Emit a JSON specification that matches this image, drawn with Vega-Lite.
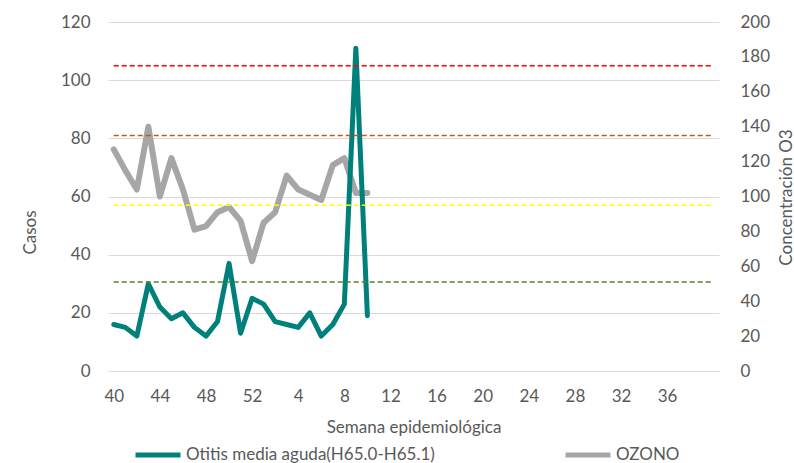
{
  "$schema": "https://vega.github.io/schema/vega-lite/v6.json",
  "width": 611,
  "height": 349,
  "autosize": {"type": "none"},
  "padding": {"left": 108, "top": 22, "right": 75, "bottom": 92},
  "background": "white",
  "config": {
    "font": "Lato",
    "view": {"stroke": null},
    "axis": {
      "labelColor": "#595959",
      "titleColor": "#595959",
      "labelFont": "Lato",
      "titleFont": "Lato",
      "labelFontSize": 17,
      "titleFontSize": 17,
      "titleFontWeight": "normal",
      "ticks": false,
      "domain": false,
      "gridColor": "#D9D9D9",
      "gridWidth": 1
    },
    "legend": {
      "orient": "none",
      "legendX": 25,
      "legendY": 408,
      "direction": "horizontal",
      "symbolType": "stroke",
      "symbolSize": 2025,
      "symbolStrokeWidth": 5,
      "labelFont": "Lato",
      "labelFontSize": 17,
      "labelLimit": 500,
      "labelColor": "#595959",
      "labelOffset": 3,
      "columnPadding": 120,
      "padding": 0,
      "title": null
    }
  },
  "datasets": {
    "serie": [
      {"orden": 0, "semana": 40, "casos": 16, "ozono": 127},
      {"orden": 1, "semana": 41, "casos": 15, "ozono": 115},
      {"orden": 2, "semana": 42, "casos": 12, "ozono": 104},
      {"orden": 3, "semana": 43, "casos": 30, "ozono": 140},
      {"orden": 4, "semana": 44, "casos": 22, "ozono": 100},
      {"orden": 5, "semana": 45, "casos": 18, "ozono": 122},
      {"orden": 6, "semana": 46, "casos": 20, "ozono": 104},
      {"orden": 7, "semana": 47, "casos": 15, "ozono": 81},
      {"orden": 8, "semana": 48, "casos": 12, "ozono": 83},
      {"orden": 9, "semana": 49, "casos": 17, "ozono": 91},
      {"orden": 10, "semana": 50, "casos": 37, "ozono": 94},
      {"orden": 11, "semana": 51, "casos": 13, "ozono": 86},
      {"orden": 12, "semana": 52, "casos": 25, "ozono": 63},
      {"orden": 13, "semana": 1, "casos": 23, "ozono": 85},
      {"orden": 14, "semana": 2, "casos": 17, "ozono": 91},
      {"orden": 15, "semana": 3, "casos": 16, "ozono": 112},
      {"orden": 16, "semana": 4, "casos": 15, "ozono": 104},
      {"orden": 17, "semana": 5, "casos": 20, "ozono": 101},
      {"orden": 18, "semana": 6, "casos": 12, "ozono": 98},
      {"orden": 19, "semana": 7, "casos": 16, "ozono": 118},
      {"orden": 20, "semana": 8, "casos": 23, "ozono": 122},
      {"orden": 21, "semana": 9, "casos": 111, "ozono": 102},
      {"orden": 22, "semana": 10, "casos": 19, "ozono": 102}
    ],
    "umbrales": [
      {"nivel": "rojo", "valor": 175, "desde": 0, "hasta": 52},
      {"nivel": "naranja", "valor": 135, "desde": 0, "hasta": 52},
      {"nivel": "amarillo", "valor": 95, "desde": 0, "hasta": 52},
      {"nivel": "verde", "valor": 51, "desde": 0, "hasta": 52}
    ]
  },
  "layer": [
    {
      "data": {"name": "serie"},
      "transform": [{"calculate": "'OZONO'", "as": "nombre"}],
      "mark": {"type": "line", "strokeWidth": 6, "strokeCap": "round", "strokeJoin": "round"},
      "encoding": {
        "x": {
          "field": "orden", "type": "quantitative",
          "scale": {"domain": [-0.5, 52.5], "nice": false, "zero": false},
          "axis": {
            "values": [0, 4, 8, 12, 16, 20, 24, 28, 32, 36, 40, 44, 48],
            "labelExpr": "datum.value <= 12 ? datum.value + 40 : datum.value - 12",
            "title": "Semana epidemiológica",
            "grid": false,
            "labelPadding": 17,
            "titleY": 56,
            "titleBaseline": "middle"
          }
        },
        "y": {
          "field": "ozono", "type": "quantitative",
          "scale": {"domain": [0, 200], "nice": false},
          "axis": {
            "orient": "right",
            "values": [0, 20, 40, 60, 80, 100, 120, 140, 160, 180, 200],
            "grid": false,
            "title": "Concentración O3",
            "labelPadding": 21,
            "titleAngle": 270,
            "titleX": 67,
            "titleY": 175,
            "titleAlign": "center",
            "titleBaseline": "middle"
          }
        },
        "color": {
          "field": "nombre", "type": "nominal",
          "scale": {"domain": ["Otitis media aguda(H65.0-H65.1)", "OZONO"], "range": ["#00807A", "#A6A6A6"]}
        }
      }
    },
    {
      "data": {"name": "serie"},
      "transform": [{"calculate": "'Otitis media aguda(H65.0-H65.1)'", "as": "nombre"}],
      "mark": {"type": "line", "strokeWidth": 5, "strokeCap": "round", "strokeJoin": "round"},
      "encoding": {
        "x": {"field": "orden", "type": "quantitative", "title": "Semana epidemiológica"},
        "y": {
          "field": "casos", "type": "quantitative",
          "scale": {"domain": [0, 120], "nice": false},
          "axis": {
            "orient": "left",
            "values": [0, 20, 40, 60, 80, 100, 120],
            "grid": true,
            "title": "Casos",
            "labelPadding": 18,
            "titleAngle": 270,
            "titleX": -78,
            "titleY": 210,
            "titleAlign": "center",
            "titleBaseline": "middle"
          }
        },
        "color": {"field": "nombre", "type": "nominal"}
      }
    },
    {
      "data": {"name": "umbrales"},
      "mark": {"type": "rule", "strokeWidth": 1.5, "strokeDash": [5, 3]},
      "encoding": {
        "x": {"field": "desde", "type": "quantitative", "title": "Semana epidemiológica"},
        "x2": {"field": "hasta"},
        "y": {"field": "valor", "type": "quantitative", "scale": {"domain": [0, 200], "nice": false}, "axis": null},
        "stroke": {
          "field": "nivel", "type": "nominal",
          "scale": {"domain": ["rojo", "naranja", "amarillo", "verde"], "range": ["#FF0000", "#C55A11", "#FFFF00", "#548235"]},
          "legend": null
        }
      }
    }
  ],
  "resolve": {"scale": {"y": "independent"}}
}
